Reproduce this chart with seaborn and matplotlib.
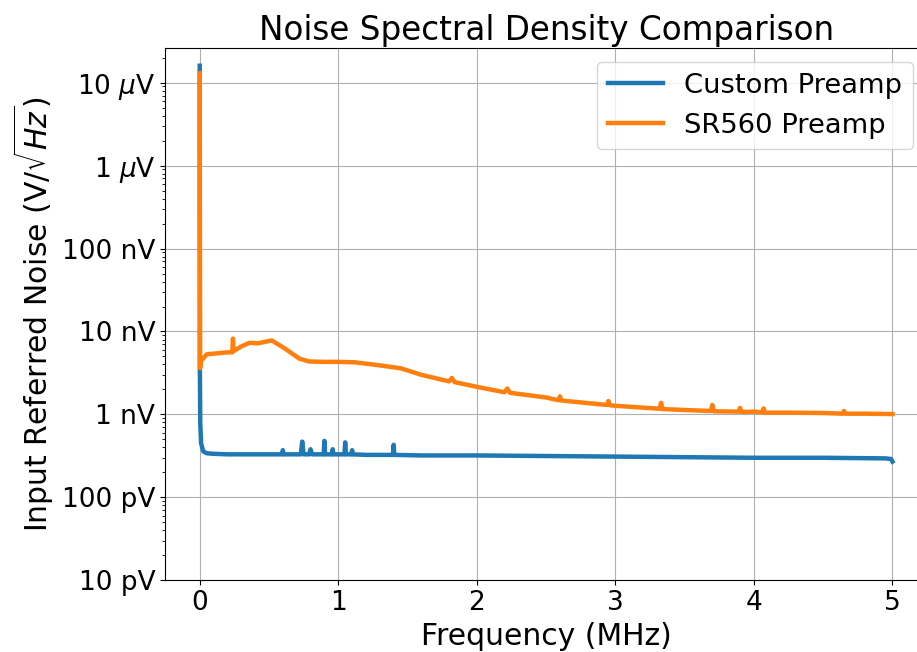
import numpy as np
import pandas as pd
import matplotlib
matplotlib.use("Agg")
import matplotlib.pyplot as plt
import seaborn as sns
from matplotlib.ticker import FixedLocator, FixedFormatter

# ==========================
# Data (frequency in MHz, noise in nV/sqrt(Hz))
# ==========================

freq_custom = [0.0, 0.001, 0.004, 0.01, 0.025, 0.05, 0.1, 0.2, 0.3, 0.4, 0.5,
               0.595, 0.6, 0.605, 0.73, 0.74, 0.75, 0.79, 0.8, 0.81,
               0.895, 0.9, 0.905, 0.955, 0.96, 0.965, 1.045, 1.05, 1.055,
               1.095, 1.1, 1.105, 1.2, 1.3, 1.395, 1.4, 1.405, 1.6, 2.0,
               2.5, 3.0, 3.5, 4.0, 4.5, 4.95, 4.99, 5.0]
noise_custom = [16000, 4.0, 0.8, 0.45, 0.36, 0.34, 0.335, 0.33, 0.33, 0.33, 0.33,
                0.33, 0.37, 0.33, 0.33, 0.47, 0.33, 0.33, 0.38, 0.33,
                0.33, 0.48, 0.33, 0.33, 0.38, 0.33, 0.33, 0.46, 0.33,
                0.33, 0.37, 0.33, 0.325, 0.325, 0.325, 0.43, 0.325, 0.32, 0.32,
                0.315, 0.31, 0.305, 0.30, 0.30, 0.295, 0.29, 0.27]

freq_sr560 = [0.0, 0.003, 0.01, 0.05, 0.1, 0.2, 0.235, 0.24, 0.245, 0.3,
              0.36, 0.42, 0.52, 0.61, 0.72, 0.79, 0.9, 1.0, 1.12, 1.3,
              1.45, 1.6, 1.8, 1.82, 1.84, 2.0, 2.2, 2.22, 2.24, 2.5,
              2.59, 2.6, 2.61, 2.94, 2.95, 2.96, 3.0, 3.32, 3.33, 3.34,
              3.5, 3.69, 3.7, 3.71, 3.89, 3.9, 3.91, 4.0, 4.06, 4.07,
              4.08, 4.25, 4.5, 4.64, 4.65, 4.66, 4.8, 5.0]
noise_sr560 = [13000, 3.6, 4.4, 5.3, 5.4, 5.6, 5.6, 8.2, 5.8, 6.6,
               7.3, 7.2, 7.8, 6.3, 4.7, 4.35, 4.3, 4.3, 4.25, 3.9,
               3.6, 3.0, 2.5, 2.75, 2.45, 2.15, 1.85, 2.05, 1.82, 1.6,
               1.48, 1.65, 1.47, 1.3, 1.45, 1.29, 1.27, 1.17, 1.38, 1.16,
               1.13, 1.1, 1.3, 1.09, 1.08, 1.2, 1.07, 1.08, 1.06, 1.18,
               1.05, 1.05, 1.04, 1.02, 1.1, 1.02, 1.02, 1.01]

ytick_vals = [1e-11, 1e-10, 1e-9, 1e-8, 1e-7, 1e-6, 1e-5]
ytick_labels = ['10 pV', '100 pV', '1 nV', '10 nV', '100 nV', r'1 $\mu$V', r'10 $\mu$V']

df = pd.concat([
    pd.DataFrame({'Frequency': freq_custom,
                  'Noise': np.array(noise_custom) * 1e-9,
                  'Source': 'Custom Preamp'}),
    pd.DataFrame({'Frequency': freq_sr560,
                  'Noise': np.array(noise_sr560) * 1e-9,
                  'Source': 'SR560 Preamp'}),
], ignore_index=True)

# ==========================
# Plot
# ==========================

plt.rcParams['font.size'] = 19

fig, ax = plt.subplots(figsize=(9.17, 6.52), dpi=100)
# the original image is cropped on the right, so the axes run past the edge
fig.subplots_adjust(left=0.180, right=1.011, top=0.926, bottom=0.11)

sns.lineplot(
    data=df,
    x='Frequency',
    y='Noise',
    hue='Source',
    palette=['tab:blue', 'tab:orange'],
    estimator=None,
    sort=False,
    linewidth=3.2,
    ax=ax
)

ax.set_yscale('log')
ax.set_ylim(1e-11, 2.6e-5)
ax.set_xlim(-0.25, 5.25)
ax.set_xticks([0, 1, 2, 3, 4, 5])
ax.yaxis.set_major_locator(FixedLocator(ytick_vals))
ax.yaxis.set_major_formatter(FixedFormatter(ytick_labels))
ax.tick_params(axis='both', labelsize=19)

ax.grid(True, which='major', color='#b0b0b0', linewidth=0.8)
ax.set_xlabel('Frequency (MHz)', fontsize=21.5)
ax.set_ylabel(r'Input Referred Noise (V/$\sqrt{Hz}$)', fontsize=21.5)
ax.set_title('Noise Spectral Density Comparison', fontsize=23.5)
ax.legend(loc='upper right', fontsize=19.7)

plt.savefig('out.png', dpi=100)
